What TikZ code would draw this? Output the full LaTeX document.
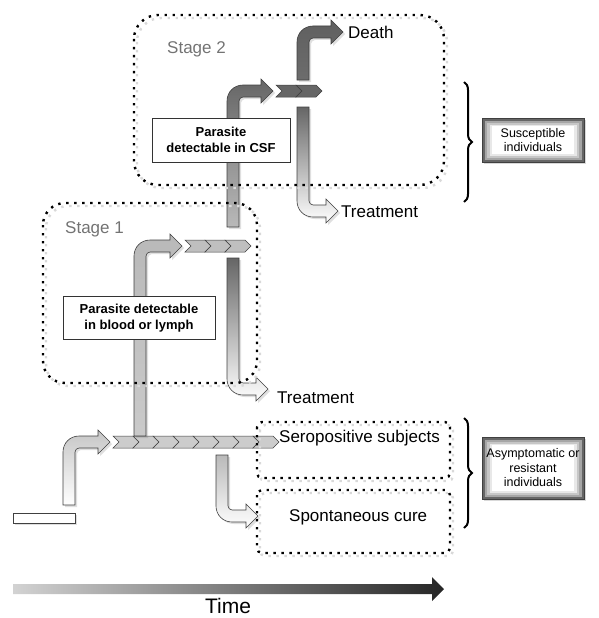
\documentclass[tikz,border=0pt]{standalone}
\usepackage{fontspec}
\setmainfont{Liberation Sans}
\usetikzlibrary{positioning,shadows,decorations.pathreplacing}

% bent arrow going up then right: x-left, y-bottom, y-centre, x-tip, style
\newcommand{\bentup}[5]{%
  \draw[#5] (#1,#2) -- (#1,{#3+10}) .. controls (#1,{#3+1}) and ({#1+7},{#3-6}) .. ({#1+16},{#3-6})
    -- ({#4-12},{#3-6}) -- ({#4-12},{#3-12}) -- (#4,#3) -- ({#4-12},{#3+12}) -- ({#4-12},{#3+6})
    -- ({#1+16},{#3+6}) .. controls ({#1+14},{#3+6}) and ({#1+12},{#3+8}) .. ({#1+12},{#3+10})
    -- ({#1+12},#2) -- cycle;}
% bent arrow going down then right
\newcommand{\bentdown}[5]{%
  \draw[#5] (#1,#2) -- (#1,{#3-10}) .. controls (#1,{#3-1}) and ({#1+7},{#3+6}) .. ({#1+16},{#3+6})
    -- ({#4-12},{#3+6}) -- ({#4-12},{#3+12}) -- (#4,#3) -- ({#4-12},{#3-12}) -- ({#4-12},{#3-6})
    -- ({#1+16},{#3-6}) .. controls ({#1+14},{#3-6}) and ({#1+12},{#3-8}) .. ({#1+12},{#3-10})
    -- ({#1+12},#2) -- cycle;}
% row of chevrons: x-start, y-centre, count, fill colour
\newcommand{\chevrons}[4]{%
  \foreach \k in {1,...,#3}{
    \draw[chev=#4] ({#1+(\k-1)*20},{#2-6}) -- ({#1+(\k-1)*20+20},{#2-6}) -- ({#1+(\k-1)*20+26},#2)
      -- ({#1+(\k-1)*20+20},{#2+6}) -- ({#1+(\k-1)*20},{#2+6}) -- ({#1+(\k-1)*20+6},#2) -- cycle;
  }}

\tikzset{
  arrowshape/.style={draw=black!75, line width=0.6pt,
    drop shadow={opacity=0.25, shadow xshift=2pt, shadow yshift=-2pt}},
  chev/.style={draw=black!75, line width=0.5pt, fill=#1},
  label/.style={font=\fontsize{17}{20}\selectfont, inner sep=0pt},
  stagelabel/.style={font=\fontsize{17}{20}\selectfont, text=black!55, inner sep=0pt},
  infobox/.style={draw=black!80, fill=white, line width=0.6pt, align=center,
    font=\bfseries\fontsize{13}{15.5}\selectfont},
  sidebox/.style={minimum width=102, minimum height=44, align=center, fill=gray!80!black,
    draw=gray!50!black, line width=0.4pt, font=\fontsize{12.5}{14.5}\selectfont,
    drop shadow={opacity=0.3, shadow xshift=2pt, shadow yshift=-2pt},
    path picture={
      \fill[gray!70] ([shift={(2.5pt,-2.5pt)}]path picture bounding box.north west)
        rectangle ([shift={(-2.5pt,2.5pt)}]path picture bounding box.south east);
      \fill[gray!45] ([shift={(5pt,-4.5pt)}]path picture bounding box.north west)
        rectangle ([shift={(-5pt,4.5pt)}]path picture bounding box.south east);
      \fill[gray!18] ([shift={(7.5pt,-6.5pt)}]path picture bounding box.north west)
        rectangle ([shift={(-7.5pt,6.5pt)}]path picture bounding box.south east);
      \fill[white] ([shift={(10pt,-8pt)}]path picture bounding box.north west)
        rectangle ([shift={(-10pt,8pt)}]path picture bounding box.south east);}},
  dotbox/.style={line width=2.4pt, dash pattern=on 2.4pt off 5.6pt},
  brace/.style={decorate, decoration={brace, amplitude=8pt}, line width=2pt}
}

\begin{document}
\begin{tikzpicture}[x=1pt, y=-1pt]
\useasboundingbox (0,0) rectangle (598,618);

% starting bar and early infection
\draw[arrowshape, fill=white] (13,513) rectangle (75,523);
\bentup{63}{505}{442}{110}{arrowshape, top color=gray!45, bottom color=white}
\chevrons{113}{442}{8}{gray!40}

% stage 1
\bentup{134}{436}{246}{182}{arrowshape, top color=gray!55, bottom color=gray!42}
\chevrons{185}{246}{3}{gray!50}
\bentdown{227}{258}{389}{268}{arrowshape, top color=gray!80!black, bottom color=white}

% stage 2
\bentup{227}{227}{91}{273}{arrowshape, top color=gray!80!black, bottom color=gray!55}
\chevrons{276}{91}{2}{gray!80!black}
\bentup{297}{80}{32}{343}{arrowshape, top color=gray!75!black, bottom color=gray!85!black}
\bentdown{297}{107}{211}{338}{arrowshape, top color=gray!80!black, bottom color=white}

% spontaneous cure
\bentdown{216}{455}{516}{258}{arrowshape, top color=gray!55, bottom color=white}

% time axis
\shade[left color=gray!35, right color=black!85] (13,584) -- (432,584) -- (432,577) -- (444,589)
  -- (432,601) -- (432,594) -- (13,594) -- cycle;
\node[font=\fontsize{21}{23}\selectfont, inner sep=0pt, anchor=base] (time) at (228,613) {Time};

% detection boxes
\node[infobox, minimum width=138, minimum height=44] (csf) at (221,140) {Parasite\\detectable in CSF};
\node[infobox, minimum width=152, minimum height=43] (blood) at (139,318) {Parasite detectable\\in blood or lymph};

% labels
\node[stagelabel, anchor=west] (stagetwo) at (167,49) {Stage 2};
\node[stagelabel, anchor=west] (stageone) at (65,229) {Stage 1};
\node[label, anchor=west] (death) at (348,32) {Death};
\node[label, anchor=west] (treattwo) at (341,212) {Treatment};
\node[label, anchor=west] (treatone) at (277,398) {Treatment};
\node[label, anchor=west] (sero) at (279,438) {Seropositive subjects};
\node[label, anchor=west] (cure) at (289,517) {Spontaneous cure};

% dotted regions
\foreach \dx/\col in {3/gray!30, 0/black}{
  \draw[dotbox, draw=\col, rounded corners=24] ({134+\dx},{15+\dx}) rectangle ({444+\dx},{185+\dx});
  \draw[dotbox, draw=\col, rounded corners=22] ({43+\dx},{203+\dx}) rectangle ({257+\dx},{383+\dx});
  \draw[dotbox, draw=\col, rounded corners=5] ({257+\dx},{422+\dx}) rectangle ({450+\dx},{478+\dx});
  \draw[dotbox, draw=\col, rounded corners=5] ({257+\dx},{490+\dx}) rectangle ({450+\dx},{553+\dx});
}

% braces and groups
\draw[brace] (464,82) -- (464,202);
\draw[brace] (464,418) -- (464,528);
\node[sidebox] (susc) at (533,140) {Susceptible\\individuals};
\node[sidebox, minimum height=62] (asym) at (533,468) {Asymptomatic or\\resistant\\individuals};
\end{tikzpicture}
\end{document}
